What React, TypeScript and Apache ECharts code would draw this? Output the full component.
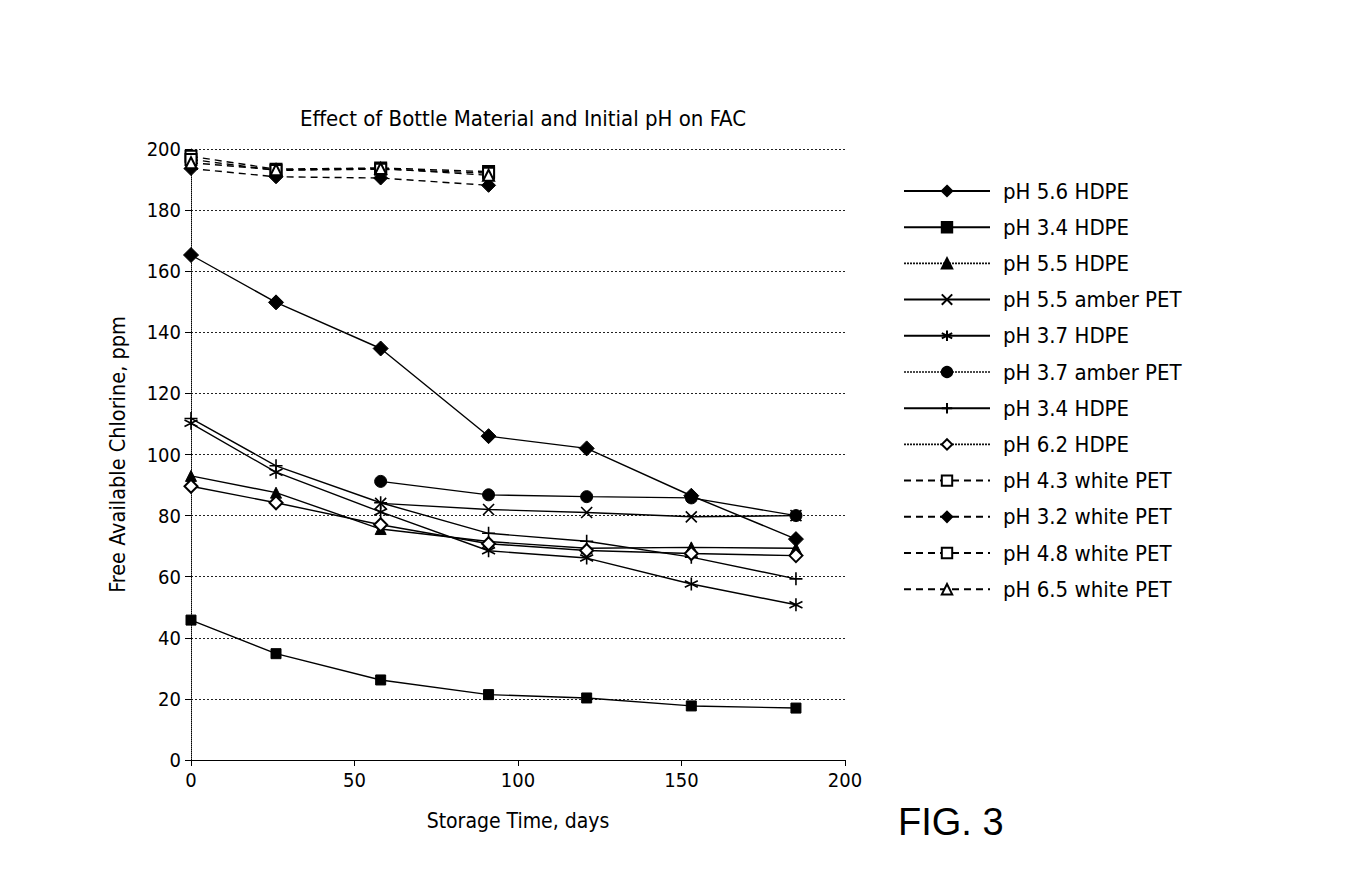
import React, { useEffect, useRef } from "react";
import * as echarts from "echarts";

const days = [0, 26, 58, 91, 121, 153, 185];

const ph56HDPE = [165.3, 149.8, 134.7, 106, 102, 86.5, 72.3];
const ph34HDPEsq = [45.8, 34.8, 26.2, 21.4, 20.3, 17.7, 17.0];
const ph55HDPE = [93, 87.5, 75.6, 71.5, 69.3, 69.6, 69.3];
const ph55amber = [null, null, 84, 82, 81, 79.6, 80];
const ph37HDPE = [110.2, 94.2, 81.2, 68.5, 66.1, 57.6, 50.8];
const ph37amber = [null, null, 91.2, 86.8, 86.2, 85.8, 80];
const ph34HDPEplus = [111.8, 96.3, 84.2, 74.2, 71.6, 66.4, 59.3];
const ph62HDPE = [89.6, 84.2, 77, 70.8, 68.6, 67.6, 66.9];
const ph43white = [197.6, 193.4, 193.8, 192.6];
const ph32white = [193.6, 190.9, 190.5, 188.1];
const ph48white = [196.6, 193.0, 193.4, 192.1];
const ph65white = [195.5, 193.2, 193.6, 191.4];

const xTicks = { min: 0, max: 200, interval: 50 };
const yTicks = { min: 0, max: 200, interval: 20 };

const FONT = "'DejaVu Sans Condensed', 'Liberation Sans Narrow', 'DejaVu Sans', sans-serif";

const X_PATH = "path://M0 0 L10 10 M10 0 L0 10";
const PLUS_PATH = "path://M5 0 L5 10 M0 5 L10 5";
const STAR_PATH = "path://M5 0 L5 10 M0.67 2.5 L9.33 7.5 M0.67 7.5 L9.33 2.5";

function pairs(vals: (number | null)[]) {
  return vals.map((v, i) => [days[i], v]);
}

export default function App() {
  const ref = useRef<HTMLDivElement>(null);
  useEffect(() => {
    if (!ref.current) return;
    const chart = echarts.init(ref.current, undefined, { renderer: "svg" });
    const mk = (
      name: string,
      vals: (number | null)[],
      symbol: string,
      size: number,
      dashed: boolean,
      strokeOnly = false
    ) => ({
      name,
      type: "line",
      data: pairs(vals),
      symbol,
      symbolSize: size,
      showSymbol: true,
      lineStyle: { color: "#000", width: 1.4, type: dashed ? [7, 5] : "solid" },
      itemStyle: strokeOnly
        ? { color: "#000", borderColor: "#000", borderWidth: 1.6 }
        : { color: "#000", borderColor: "#000", borderWidth: 1 },
      z: 3,
    });
    const series = [
      mk("pH 5.6 HDPE", ph56HDPE, "diamond", 15, false),
      mk("pH 3.4 HDPE ", ph34HDPEsq, "rect", 10, false),
      mk("pH 5.5 HDPE", ph55HDPE, "triangle", 11, false),
      mk("pH 5.5 amber PET", ph55amber, X_PATH, 11, false, true),
      mk("pH 3.7 HDPE", ph37HDPE, STAR_PATH, 13, false, true),
      mk("pH 3.7 amber PET", ph37amber, "circle", 12, false),
      mk("pH 3.4 HDPE", ph34HDPEplus, PLUS_PATH, 13, false, true),
      mk("pH 6.2 HDPE", ph62HDPE, "emptyDiamond", 13, false),
      mk("pH 4.3 white PET", ph43white, "emptyRect", 11, true),
      mk("pH 3.2 white PET", ph32white, "diamond", 14, true),
      mk("pH 4.8 white PET", ph48white, "emptyRect", 11, true),
      mk("pH 6.5 white PET", ph65white, "emptyTriangle", 11, true),
    ];
    const dottedLegend = new Set(["pH 5.5 HDPE", "pH 3.7 amber PET", "pH 6.2 HDPE"]);
    chart.setOption({
      animation: false,
      backgroundColor: "#fff",
      title: {
        text: "Effect of Bottle Material and Initial pH on FAC",
        left: 518,
        top: 102,
        textAlign: "center",
        textStyle: { fontFamily: FONT, fontSize: 22, fontWeight: "normal", color: "#000" },
      },
      grid: { left: 191, right: 515, top: 149, bottom: 114, containLabel: false },
      legend: {
        orient: "vertical",
        left: 898,
        top: 175,
        itemWidth: 86,
        itemHeight: 13,
        itemGap: 14.2,
        textStyle: { fontFamily: FONT, fontSize: 22, color: "#000", padding: [0, 0, 0, 8] },
        data: series.map((s) =>
          dottedLegend.has(s.name)
            ? { name: s.name, lineStyle: { type: [2, 1], width: 1.6, color: "#111" } }
            : { name: s.name }
        ),
      },
      xAxis: {
        type: "value",
        ...xTicks,
        name: "Storage Time, days",
        nameLocation: "middle",
        nameGap: 50,
        nameTextStyle: { fontFamily: FONT, fontSize: 21, color: "#000" },
        axisLine: { lineStyle: { color: "#000", width: 1.2 } },
        axisTick: { show: true, length: 6, lineStyle: { color: "#000" } },
        axisLabel: { fontFamily: FONT, fontSize: 20, color: "#000", margin: 10 },
        splitLine: { show: false },
      },
      yAxis: {
        type: "value",
        ...yTicks,
        name: "Free Available Chlorine, ppm",
        nameLocation: "middle",
        nameGap: 63,
        nameTextStyle: { fontFamily: FONT, fontSize: 21.5, color: "#000" },
        axisLine: { show: true, lineStyle: { color: "#000", width: 1, type: "dotted" } },
        axisTick: { show: true, length: 6, lineStyle: { color: "#000" } },
        axisLabel: { fontFamily: FONT, fontSize: 20, color: "#000", margin: 10 },
        splitLine: { show: true, lineStyle: { color: "#222", width: 1, type: [2, 2] } },
      },
      graphic: [
        {
          type: "text",
          left: 898,
          top: 803,
          style: {
            text: "FIG. 3",
            font: "38px 'Liberation Sans', Arial, sans-serif",
            fill: "#000",
          },
        },
      ],
      series,
    });
    return () => chart.dispose();
  }, []);
  return (
    <div
      ref={ref}
      style={{ position: "fixed", left: 0, top: 0, width: 1360, height: 874, background: "#fff" }}
    />
  );
}
